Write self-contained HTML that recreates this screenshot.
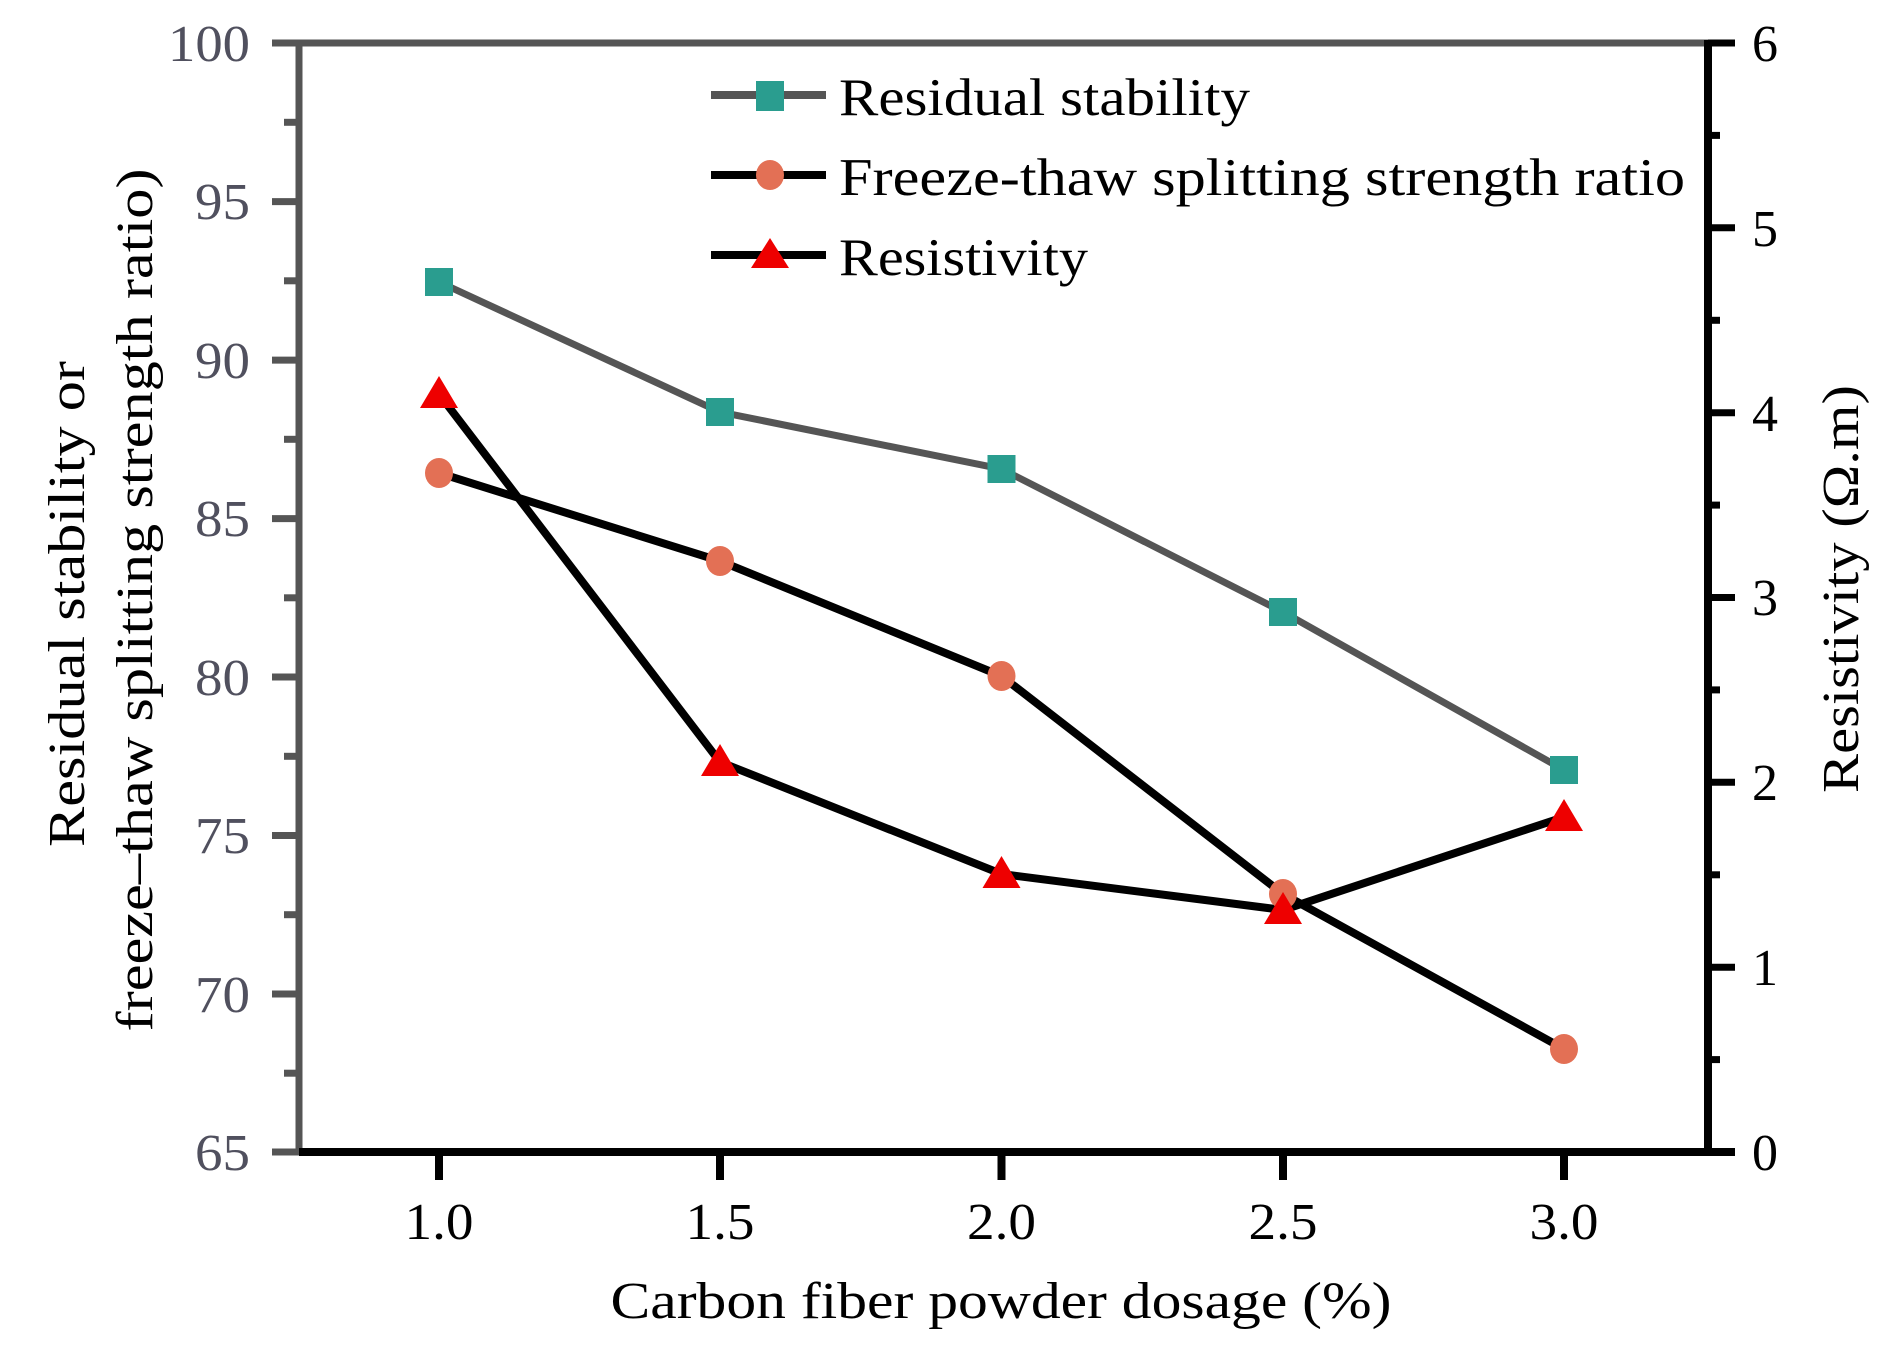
<!DOCTYPE html>
<html><head><meta charset="utf-8"><style>
html,body{margin:0;padding:0;background:#fff;}
svg{display:block;}
text{font-family:"Liberation Serif",serif;}
</style></head><body>
<svg width="1885" height="1352" viewBox="0 0 1885 1352" xmlns="http://www.w3.org/2000/svg">
<rect width="1885" height="1352" fill="#fff"/>
<g stroke="#555" stroke-width="7">
<line x1="272" y1="43" x2="1708" y2="43"/>
<line x1="299" y1="40" x2="299" y2="1152"/>
<line x1="272" y1="201.6" x2="299" y2="201.6"/>
<line x1="272" y1="360.1" x2="299" y2="360.1"/>
<line x1="272" y1="518.6" x2="299" y2="518.6"/>
<line x1="272" y1="677" x2="299" y2="677"/>
<line x1="272" y1="835.5" x2="299" y2="835.5"/>
<line x1="272" y1="994" x2="299" y2="994"/>
<line x1="272" y1="1152" x2="299" y2="1152"/>
<line x1="284" y1="122.3" x2="299" y2="122.3"/>
<line x1="284" y1="280.8" x2="299" y2="280.8"/>
<line x1="284" y1="439.3" x2="299" y2="439.3"/>
<line x1="284" y1="597.8" x2="299" y2="597.8"/>
<line x1="284" y1="756.3" x2="299" y2="756.3"/>
<line x1="284" y1="914.7" x2="299" y2="914.7"/>
<line x1="284" y1="1073.2" x2="299" y2="1073.2"/>
</g>
<g stroke="#000" stroke-width="8">
<line x1="299" y1="1152" x2="1735" y2="1152"/>
<line x1="1708" y1="40" x2="1708" y2="1156"/>
<line x1="439" y1="1152" x2="439" y2="1180"/>
<line x1="720" y1="1152" x2="720" y2="1180"/>
<line x1="1001.5" y1="1152" x2="1001.5" y2="1180"/>
<line x1="1283" y1="1152" x2="1283" y2="1180"/>
<line x1="1564" y1="1152" x2="1564" y2="1180"/>
</g>
<g stroke="#000" stroke-width="7">
<line x1="1708" y1="43" x2="1735" y2="43"/>
<line x1="1708" y1="227.8" x2="1735" y2="227.8"/>
<line x1="1708" y1="412.7" x2="1735" y2="412.7"/>
<line x1="1708" y1="597.5" x2="1735" y2="597.5"/>
<line x1="1708" y1="782.3" x2="1735" y2="782.3"/>
<line x1="1708" y1="967.2" x2="1735" y2="967.2"/>
<line x1="1708" y1="135.4" x2="1720" y2="135.4"/>
<line x1="1708" y1="320.3" x2="1720" y2="320.3"/>
<line x1="1708" y1="505.1" x2="1720" y2="505.1"/>
<line x1="1708" y1="689.9" x2="1720" y2="689.9"/>
<line x1="1708" y1="874.8" x2="1720" y2="874.8"/>
<line x1="1708" y1="1059.6" x2="1720" y2="1059.6"/>
</g>
<g fill="#50505e" font-size="52" text-anchor="end" lengthAdjust="spacingAndGlyphs">
<text x="250" y="61" textLength="82" lengthAdjust="spacingAndGlyphs">100</text>
<text x="250" y="219" textLength="55" lengthAdjust="spacingAndGlyphs">95</text>
<text x="250" y="378" textLength="55" lengthAdjust="spacingAndGlyphs">90</text>
<text x="250" y="536" textLength="55" lengthAdjust="spacingAndGlyphs">85</text>
<text x="250" y="695" textLength="55" lengthAdjust="spacingAndGlyphs">80</text>
<text x="250" y="853" textLength="55" lengthAdjust="spacingAndGlyphs">75</text>
<text x="250" y="1012" textLength="55" lengthAdjust="spacingAndGlyphs">70</text>
<text x="250" y="1170" textLength="55" lengthAdjust="spacingAndGlyphs">65</text>
</g>
<g fill="#000" font-size="52" text-anchor="start">
<text x="1752" y="61">6</text>
<text x="1752" y="246">5</text>
<text x="1752" y="431">4</text>
<text x="1752" y="615">3</text>
<text x="1752" y="800">2</text>
<text x="1752" y="985">1</text>
<text x="1752" y="1170">0</text>
</g>
<g fill="#000" font-size="52" text-anchor="middle">
<text x="439" y="1239" textLength="69" lengthAdjust="spacingAndGlyphs">1.0</text>
<text x="720" y="1239" textLength="69" lengthAdjust="spacingAndGlyphs">1.5</text>
<text x="1001.5" y="1239" textLength="69" lengthAdjust="spacingAndGlyphs">2.0</text>
<text x="1283" y="1239" textLength="69" lengthAdjust="spacingAndGlyphs">2.5</text>
<text x="1564" y="1239" textLength="69" lengthAdjust="spacingAndGlyphs">3.0</text>
<text x="1001" y="1318" textLength="781" lengthAdjust="spacingAndGlyphs">Carbon fiber powder dosage (%)</text>
<text transform="translate(84,604) rotate(-90)" textLength="486" lengthAdjust="spacingAndGlyphs">Residual stability or</text>
<text transform="translate(152,600) rotate(-90)" textLength="863" lengthAdjust="spacingAndGlyphs">freeze–thaw splitting strength ratio)</text>
<text transform="translate(1858,589) rotate(-90)" textLength="408" lengthAdjust="spacingAndGlyphs">Resistivity (Ω.m)</text>
</g>
<polyline fill="none" stroke="#555" stroke-width="7" points="439,282 720,412 1001.5,469 1283,612 1564,770"/>
<polyline fill="none" stroke="#000" stroke-width="8" points="439,473 720,561 1001.5,676 1283,894 1564,1049"/>
<polyline fill="none" stroke="#000" stroke-width="8" points="439,394 720,762 1001.5,874 1283,910 1564,817"/>
<g fill="#2a9d8f">
<rect x="425" y="268" width="28" height="28"/><rect x="706" y="398" width="28" height="28"/><rect x="987.5" y="455" width="28" height="28"/><rect x="1269" y="598" width="28" height="28"/><rect x="1550" y="756" width="28" height="28"/>
</g>
<g fill="#e37055">
<ellipse cx="439" cy="473" rx="14" ry="15"/><ellipse cx="720" cy="561" rx="14" ry="15"/><ellipse cx="1001.5" cy="676" rx="14" ry="15"/><ellipse cx="1283" cy="894" rx="14" ry="15"/><ellipse cx="1564" cy="1049" rx="14" ry="15"/>
</g>
<g fill="#ee0000">
<polygon points="439,376 420,408 458,408"/><polygon points="720,744 701,776 739,776"/><polygon points="1001.5,856 982.5,888 1020.5,888"/><polygon points="1283,892 1264,924 1302,924"/><polygon points="1564,799 1545,831 1583,831"/>
</g>
<line x1="711" y1="95" x2="826" y2="95" stroke="#555" stroke-width="8"/>
<rect x="756" y="81" width="28" height="30" fill="#2a9d8f"/>
<line x1="711" y1="175" x2="826" y2="175" stroke="#000" stroke-width="8"/>
<ellipse cx="770" cy="175" rx="14" ry="15" fill="#e37055"/>
<line x1="711" y1="255" x2="826" y2="255" stroke="#000" stroke-width="8"/>
<polygon points="770,238 751,268 789,268" fill="#ee0000"/>
<g fill="#000" font-size="53">
<text x="839" y="115" textLength="411" lengthAdjust="spacingAndGlyphs">Residual stability</text>
<text x="839" y="195" textLength="846" lengthAdjust="spacingAndGlyphs">Freeze-thaw splitting strength ratio</text>
<text x="839" y="275" textLength="249" lengthAdjust="spacingAndGlyphs">Resistivity</text>
</g>
</svg>
</body></html>
